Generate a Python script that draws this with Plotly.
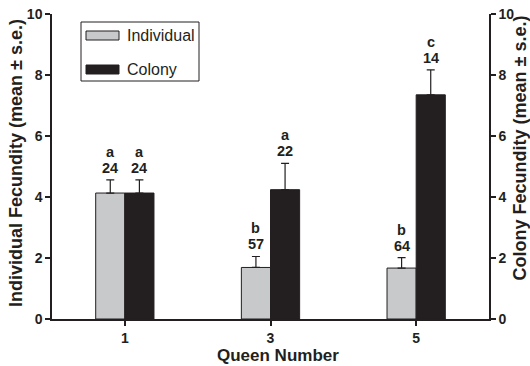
import plotly.graph_objects as go

queens = [1, 3, 5]
individual = [4.13, 1.69, 1.67]
individual_se = [0.43, 0.36, 0.34]
colony = [4.13, 4.24, 7.35]
colony_se = [0.43, 0.86, 0.82]
ind_letters = ["a", "b", "b"]
ind_n = ["24", "57", "64"]
col_letters = ["a", "a", "c"]
col_n = ["24", "22", "14"]
series_names = ["Individual", "Colony"]
series_colors = ["#c8c9cb", "#231f20"]
y_ticks = [0, 2, 4, 6, 8, 10]

FONT = "Liberation Sans, Arial, sans-serif"
INK = "#231f20"
BW = 0.4

fig = go.Figure()
fig.add_trace(go.Bar(
    x=queens, y=individual, width=BW, offset=-BW, name=series_names[0],
    marker=dict(color=series_colors[0], line=dict(color=INK, width=1)),
    error_y=dict(type="data", array=individual_se, arrayminus=[0]*3, symmetric=False,
                 color=INK, thickness=1.2, width=4),
))
fig.add_trace(go.Bar(
    x=queens, y=colony, width=BW, offset=0, name=series_names[1], yaxis="y2",
    marker=dict(color=series_colors[1], line=dict(color=INK, width=1)),
    error_y=dict(type="data", array=colony_se, arrayminus=[0]*3, symmetric=False,
                 color=INK, thickness=1.2, width=4),
))

def label(xc, ytop, letter, n, yref):
    fig.add_annotation(x=xc, y=ytop, yref=yref, text=f"<b>{n}</b>", showarrow=False,
                       yanchor="middle", yshift=12, borderpad=0,
                       font=dict(family=FONT, size=14.5, color=INK))
    fig.add_annotation(x=xc, y=ytop, yref=yref, text=f"<b>{letter}</b>", showarrow=False,
                       yanchor="middle", yshift=28, borderpad=0,
                       font=dict(family=FONT, size=14.5, color=INK))

for q, v, s, l, n in zip(queens, individual, individual_se, ind_letters, ind_n):
    label(q - BW/2, v + s, l, n, "y")
for q, v, s, l, n in zip(queens, colony, colony_se, col_letters, col_n):
    label(q + BW/2, v + s, l, n, "y2")

# pixel -> paper helpers
L, R, T, B = 52, 489, 14, 319
def px(x):
    return (x - L) / (R - L)
def py(y):
    return (B - y) / (B - T)

# manual legend
fig.add_shape(type="rect", xref="paper", yref="paper", x0=px(81), x1=px(199), y0=py(81), y1=py(22),
              line=dict(color=INK, width=1), fillcolor="white")
for i, (nm, col) in enumerate(zip(series_names, series_colors)):
    cy = 35.5 + 34 * i
    fig.add_shape(type="rect", xref="paper", yref="paper", x0=px(86), x1=px(119),
                  y0=py(cy + 4.5), y1=py(cy - 4.5), line=dict(color=INK, width=1), fillcolor=col)
    fig.add_annotation(xref="paper", yref="paper", x=px(125), y=py(cy), text=nm, showarrow=False,
                       xanchor="left", yanchor="middle", font=dict(family=FONT, size=16, color=INK))

# axis titles
fig.add_annotation(xref="paper", yref="paper", x=px(15.5), y=py(163.5), text="<b>Individual Fecundity (mean ± s.e.)</b>",
                   textangle=-90, showarrow=False, xanchor="center", yanchor="middle",
                   font=dict(family=FONT, size=18, color=INK))
fig.add_annotation(xref="paper", yref="paper", x=px(519), y=py(148.5), text="<b>Colony Fecundity (mean ± s.e.)</b>",
                   textangle=-90, showarrow=False, xanchor="center", yanchor="middle",
                   font=dict(family=FONT, size=18, color=INK))
fig.add_annotation(xref="paper", yref="paper", x=px(278), y=py(355), text="<b>Queen Number</b>",
                   showarrow=False, xanchor="center", yanchor="middle", borderpad=0,
                   font=dict(family=FONT, size=17, color=INK))

axis_common = dict(showline=True, linecolor=INK, linewidth=1.5, ticks="outside",
                   ticklen=5, tickcolor=INK, tickwidth=1.5, showgrid=False, zeroline=False,
                   automargin=False,
                   tickfont=dict(family=FONT, size=14, color=INK, weight="bold"))

fig.update_layout(
    width=530, height=366,
    margin=dict(l=L, r=530 - R, t=T, b=366 - B, autoexpand=False),
    paper_bgcolor="white", plot_bgcolor="white",
    barmode="overlay",
    showlegend=False,
    font=dict(family=FONT, color=INK),
    xaxis=dict(range=[0, 6], tickvals=queens, ticktext=[str(q) for q in queens], **axis_common),
    yaxis=dict(range=[0, 10], tickvals=y_ticks, **axis_common),
    yaxis2=dict(range=[0, 10], tickvals=y_ticks, overlaying="y", side="right", **axis_common),
)

fig.write_html("out.html", config={"displayModeBar": False},
               post_script="document.body.style.margin='0';document.body.style.overflow='hidden';")
